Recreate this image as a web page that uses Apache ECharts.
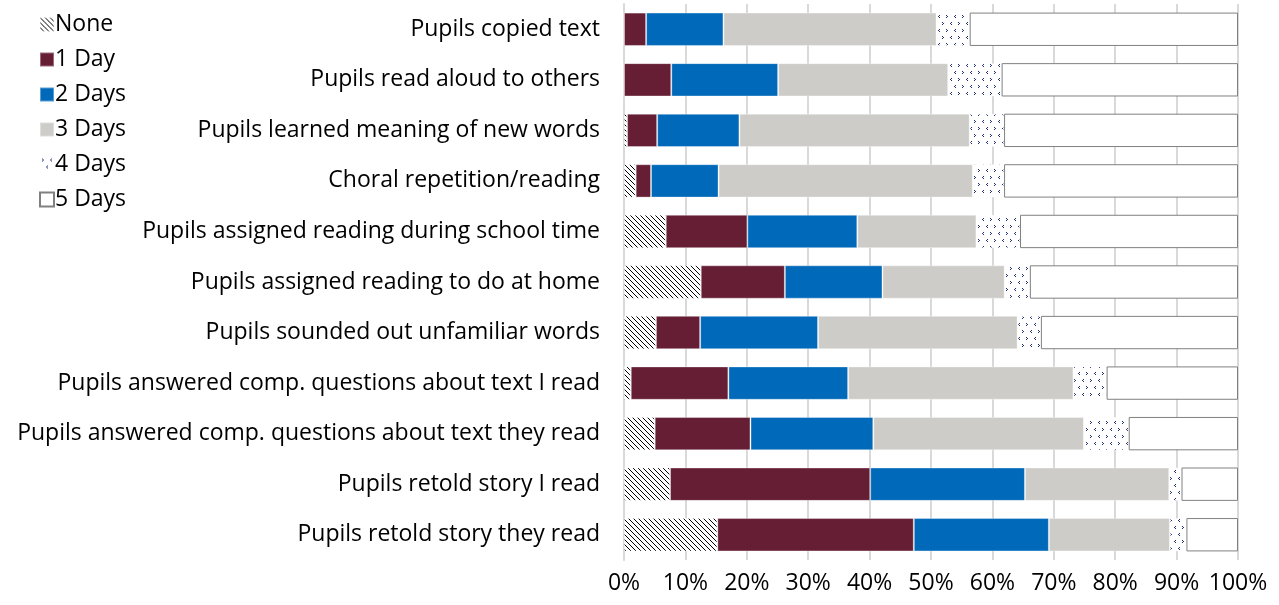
<!DOCTYPE html>
<html>
<head>
<meta charset="utf-8">
<script src="https://cdn.jsdelivr.net/npm/echarts@6/dist/echarts.min.js"></script>
<style>
  html, body { margin: 0; padding: 0; background: #fff; }
  #chart { width: 1279px; height: 605px; }
</style>
</head>
<body>
<div id="chart"></div>
<script>
const categories = [
  'Pupils copied text',
  'Pupils read aloud to others',
  'Pupils learned meaning of new words',
  'Choral repetition/reading',
  'Pupils assigned reading during school time',
  'Pupils assigned reading to do at home',
  'Pupils sounded out unfamiliar words',
  'Pupils answered comp. questions about text I read',
  'Pupils answered comp. questions about text they read',
  'Pupils retold story I read',
  'Pupils retold story they read',
];

const seriesNames = ['None', '1 Day', '2 Days', '3 Days', '4 Days', '5 Days'];

// percent of pupils, one value per category (top to bottom)
const noneValues = [0, 0, 0.5, 1.9, 6.8, 12.5, 5.2, 1.1, 5.0, 7.5, 15.2];
const day1Values = [3.6, 7.7, 4.9, 2.5, 13.3, 13.7, 7.2, 15.9, 15.6, 32.6, 32.0];
const day2Values = [12.6, 17.4, 13.4, 11.0, 17.9, 15.9, 19.2, 19.5, 20.0, 25.2, 22.0];
const day3Values = [34.7, 27.7, 37.5, 41.4, 19.4, 19.9, 32.5, 36.7, 34.3, 23.5, 19.7];
const day4Values = [5.4, 8.7, 5.6, 5.1, 7.1, 4.1, 3.8, 5.4, 7.3, 2.0, 2.7];
const day5Values = [43.7, 38.5, 38.1, 38.1, 35.5, 33.9, 32.1, 21.4, 17.8, 9.2, 8.4];

const xTicks = [0, 10, 20, 30, 40, 50, 60, 70, 80, 90, 100];

// small canvas tiles for the patterned segments
function hatchTile() {
  const c = document.createElement('canvas');
  c.width = 5; c.height = 5;
  const ctx = c.getContext('2d');
  ctx.fillStyle = '#fff';
  ctx.fillRect(0, 0, 5, 5);
  ctx.fillStyle = '#000';
  for (let k = 0; k < 5; k++) ctx.fillRect(k, k, 1, 1);
  return c;
}

function chevronTile() {
  const c = document.createElement('canvas');
  c.width = 16; c.height = 14;
  const ctx = c.getContext('2d');
  ctx.fillStyle = '#fff';
  ctx.fillRect(0, 0, 16, 14);
  ctx.fillStyle = '#1c2f6e';
  const right = (x, y) => { ctx.fillRect(x, y, 1, 1); ctx.fillRect(x + 1, y + 1, 1, 1); ctx.fillRect(x, y + 2, 1, 1); };
  const left = (x, y) => { ctx.fillRect(x + 1, y, 1, 1); ctx.fillRect(x, y + 1, 1, 1); ctx.fillRect(x + 1, y + 2, 1, 1); };
  right(2, 1);
  left(10, 1);
  left(6, 8);
  right(14, 8);
  return c;
}

const fillByName = {
  'None': { image: hatchTile(), repeat: 'repeat' },
  '1 Day': '#651e34',
  '2 Days': '#0069b9',
  '3 Days': '#cdccc8',
  '4 Days': { image: chevronTile(), repeat: 'repeat' },
  '5 Days': '#ffffff',
};

const valuesByName = {
  'None': noneValues,
  '1 Day': day1Values,
  '2 Days': day2Values,
  '3 Days': day3Values,
  '4 Days': day4Values,
  '5 Days': day5Values,
};

const font = '"Open Sans", Lato, sans-serif';

const chart = echarts.init(document.getElementById('chart'));

chart.setOption({
  animation: false,
  textStyle: { fontFamily: font },
  legend: {
    orient: 'vertical',
    left: 34,
    top: 8,
    icon: 'rect',
    itemWidth: 14,
    itemHeight: 14,
    itemGap: 12,
    textStyle: { fontSize: 23, color: '#000', fontFamily: font, padding: [0, 0, 0, -4] },
    data: seriesNames,
  },
  grid: { left: 624, right: 41, top: 4, bottom: 45 },
  xAxis: {
    type: 'value',
    min: 0,
    max: 100,
    interval: 10,
    axisLabel: {
      formatter: (v) => (xTicks.includes(v) ? v + '%' : ''),
      fontSize: 23,
      color: '#000',
      margin: 12,
    },
    axisLine: { show: false },
    axisTick: { show: false },
    splitLine: { lineStyle: { color: '#d9d9d9', width: 2 } },
  },
  yAxis: {
    type: 'category',
    inverse: true,
    data: categories,
    axisLine: { lineStyle: { color: '#d9d9d9', width: 2 } },
    axisTick: { show: false },
    axisLabel: { fontSize: 23, color: '#000', margin: 24 },
  },
  series: seriesNames.map((name) => ({
    name,
    type: 'bar',
    stack: 'total',
    barWidth: '66%',
    data: valuesByName[name],
    itemStyle: {
      color: fillByName[name],
      borderColor: name === '5 Days' ? '#808080' : 'rgba(255,255,255,0.35)',
      borderWidth: 1,
    },
  })),
});
</script>
</body>
</html>
